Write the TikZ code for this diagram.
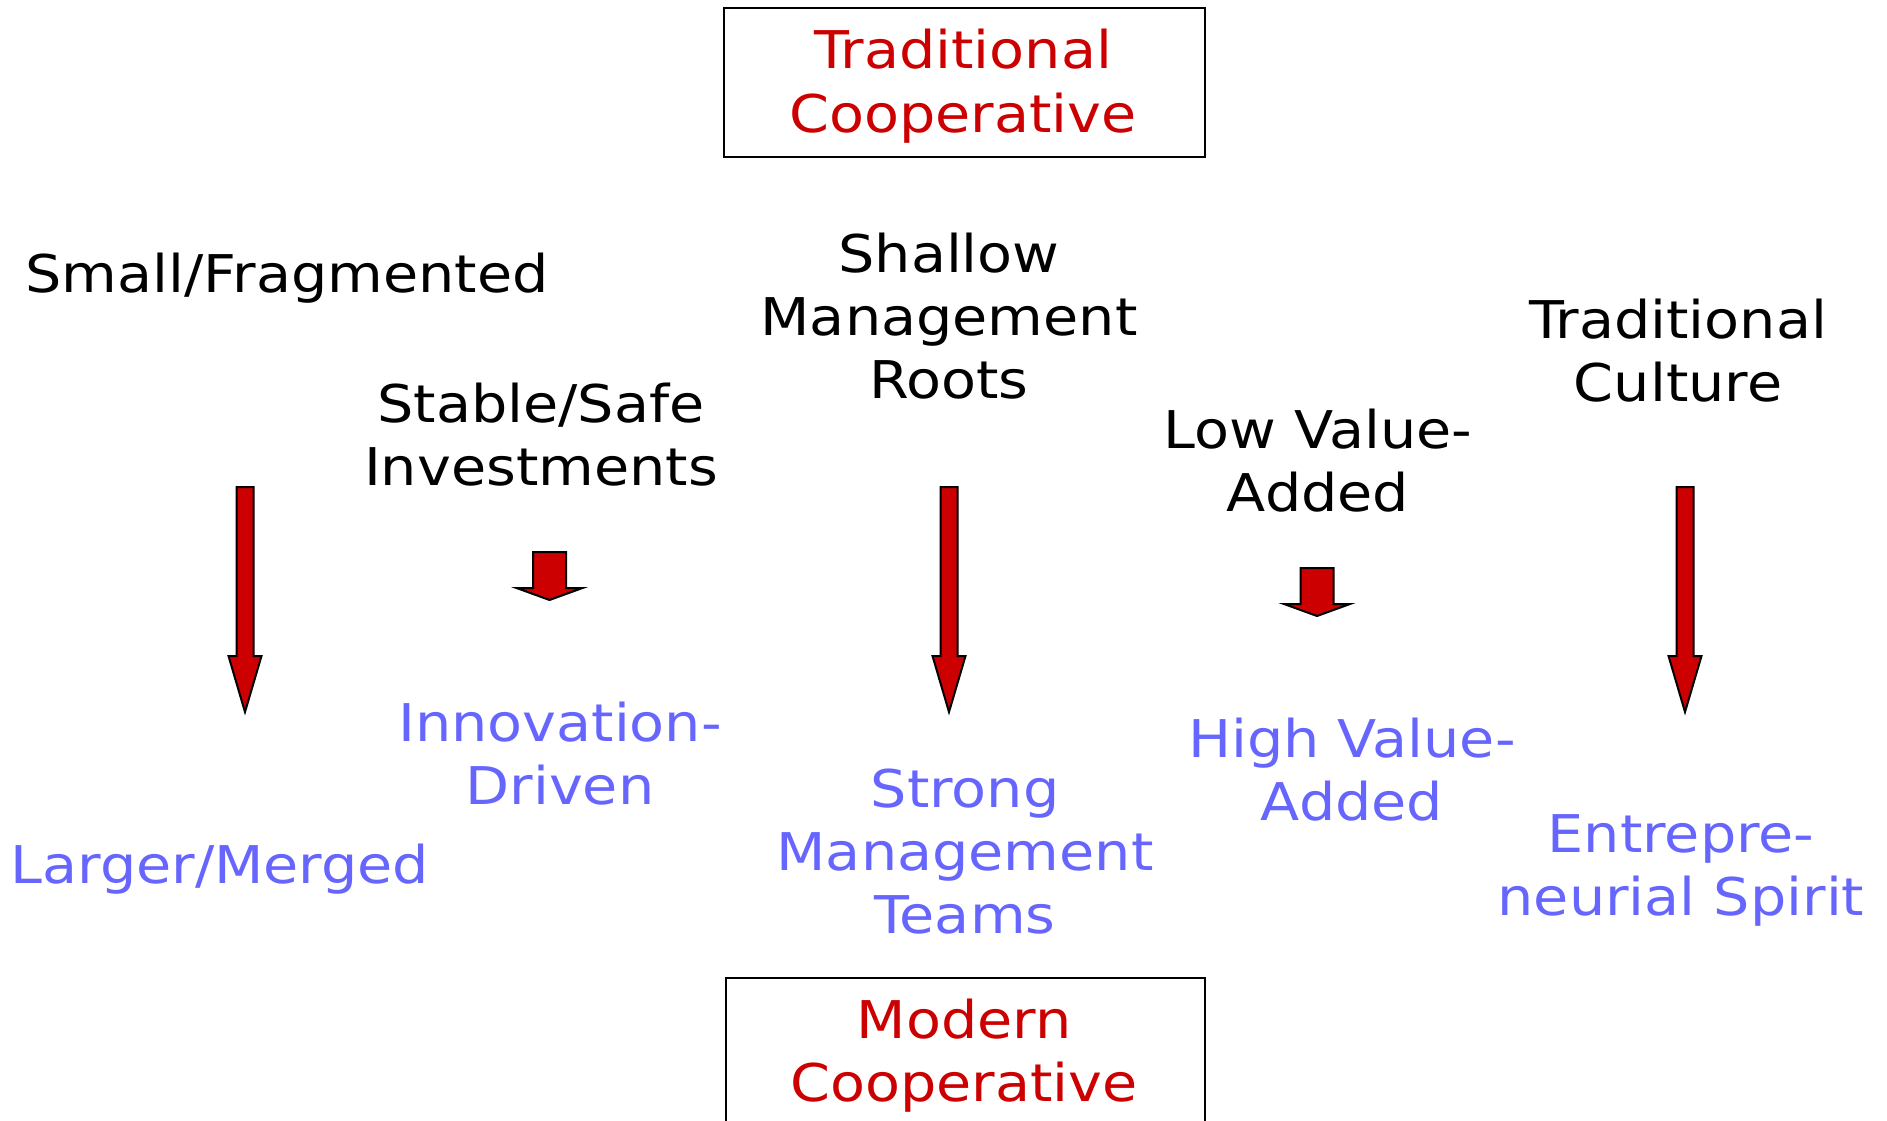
\documentclass[tikz,border=0pt]{standalone}
\usepackage{fontspec}
\setmainfont{DejaVu Sans}[FakeStretch=1.1]
\definecolor{cred}{HTML}{CC0000}
\definecolor{cblue}{HTML}{6666FF}
\tikzset{
  lbl/.style={anchor=base, inner sep=0pt, align=center,
    font=\fontsize{52}{63}\selectfont},
  blk/.style={lbl, text=black},
  blu/.style={lbl, text=cblue},
  redt/.style={lbl, text=cred},
  frame/.style={draw=black, line width=2pt},
  blockarrow/.style={fill=cred, draw=black, line width=2pt, line join=miter}
}
% #1 center x, #2 top, #3 head y, #4 tip, #5 shaft half, #6 head half
\newcommand{\blockarr}[6]{%
  \draw[blockarrow] (#1-#5,#2) -- (#1+#5,#2) -- (#1+#5,#3) -- (#1+#6,#3)
    -- (#1,#4) -- (#1-#6,#3) -- (#1-#5,#3) -- cycle;}
\begin{document}
\begin{tikzpicture}[x=1pt,y=-1pt]
\clip (0,0) rectangle (1887,1121);
\fill[white] (0,0) rectangle (1887,1121);

% top box (node anchors give the baseline of the last line)
\draw[frame] (724,8) rectangle (1205,157);
\node[redt] (topt) at (963,132) {Traditional\\Cooperative};

% bottom box
\draw[frame] (726,978) rectangle (1205,1140);
\node[redt] (bott) at (964,1101) {Modern\\Cooperative};

% black labels
\node[blk] (small) at (287,292) {Small/Fragmented};
\node[blk] (stable) at (541,485) {Stable/Safe\\Investments};
\node[blk] (shallow) at (949,398) {Shallow\\Management\\Roots};
\node[blk] (low) at (1318,511) {Low Value-\\Added};
\node[blk] (tradc) at (1678,401) {Traditional\\Culture};

% blue labels
\node[blu] (larger) at (220,883) {Larger/Merged};
\node[blu] (innov) at (560,804) {Innovation-\\Driven};
\node[blu] (strong) at (965,933) {Strong\\Management\\Teams};
\node[blu] (high) at (1352,820) {High Value-\\Added};
\node[blu] (entre) at (1681,915) {Entrepre-\\neurial Spirit};

% arrows
\blockarr{245}{487}{656}{712}{8.5}{16.5}
\blockarr{549.5}{552}{588}{600}{16.5}{33}
\blockarr{949}{487}{656}{712}{8.5}{16.5}
\blockarr{1317}{568}{604}{616}{16.5}{33}
\blockarr{1685}{487}{656}{712}{8.5}{16.5}
\end{tikzpicture}
\end{document}
